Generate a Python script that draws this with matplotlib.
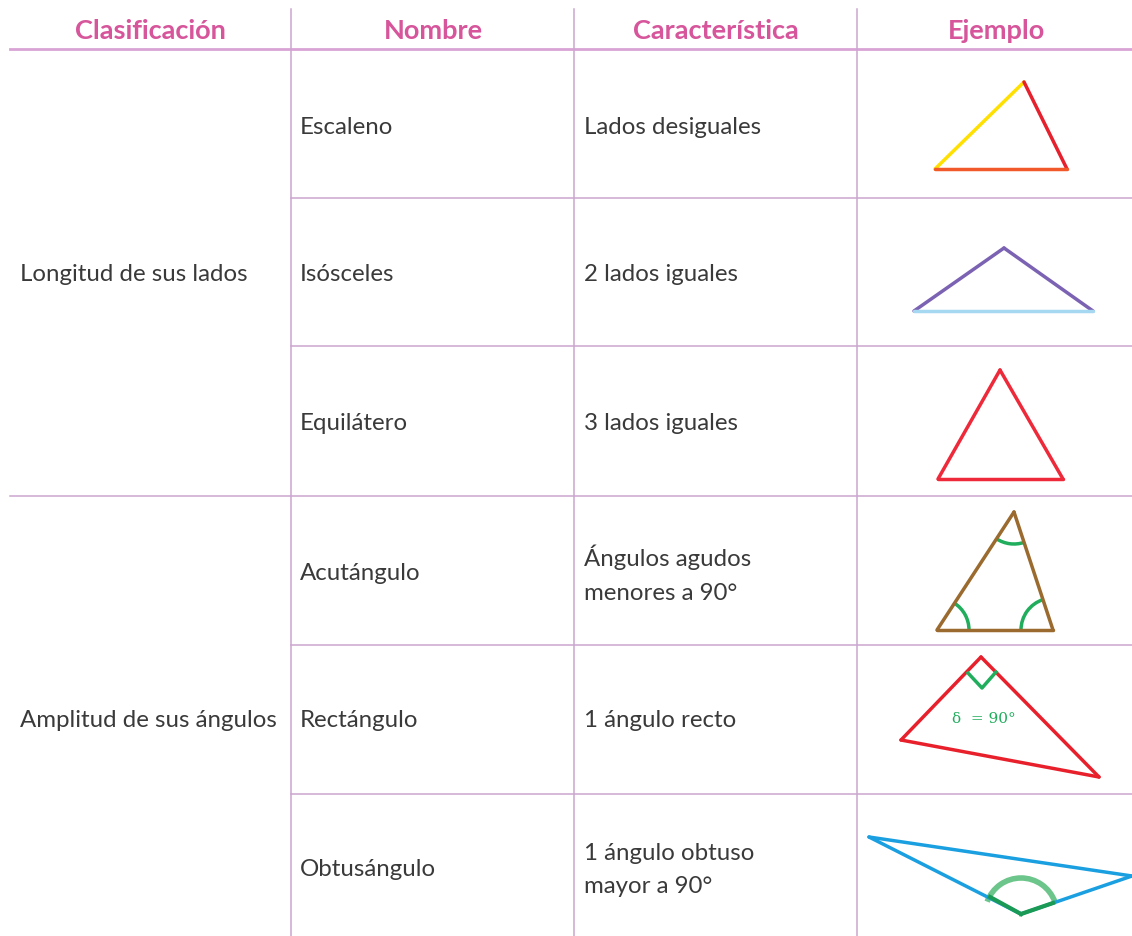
import matplotlib
matplotlib.use("Agg")
from matplotlib import pyplot as plt
from matplotlib.patches import Arc

plt.rcParams['font.family'] = ['Lato', 'DejaVu Sans']

## Table content
headers = ["Clasificación", "Nombre", "Característica", "Ejemplo"]
header_x = [150, 433, 716, 997]

groups = ["Longitud de sus lados", "Amplitud de sus ángulos"]
group_y = [275, 721]

names = ["Escaleno", "Isósceles", "Equilátero", "Acutángulo", "Rectángulo", "Obtusángulo"]
features = ["Lados desiguales", "2 lados iguales", "3 lados iguales",
            "Ángulos agudos\nmenores a 90°", "1 ángulo recto", "1 ángulo obtuso\nmayor a 90°"]
row_y = [128, 275, 424, 574, 721, 870]

## Triangle vertices (pixel coords in the picture) and side colours
escaleno = [(935, 170), (1024, 83), (1067, 170)]
escaleno_colors = ["#ffe000", "#e6202c", "#f2592a"]
isosceles = [(914, 312), (1004, 249), (1093, 312)]
isosceles_colors = ["#7b62b3", "#7b62b3", "#a6d8f2"]
equilatero = [(938, 480), (1000, 371), (1063, 480)]
acutangulo = [(937, 631), (1014, 513), (1053, 631)]
rectangulo = [(901, 741), (981, 658), (1099, 778)]
right_mark = [(968, 674), (982, 689), (996, 673)]
obtusangulo = [(869, 838), (1021, 915), (1132, 877)]
obtuse_ends = [(990, 898), (1053, 904)]

grid_color = "#cba6cf"
pink = "#d6559b"
text_color = "#3a3a3a"
green = "#20ad5c"

fig = plt.figure(figsize=(11.32, 9.37), dpi=100)
ax = fig.add_axes([0, 0, 1, 1])
ax.set_xlim(0, 1132)
ax.set_ylim(937, 0)
ax.axis("off")

# grid lines
ax.plot([10, 1132], [50, 50], color="#d9a3d6", lw=2)
for x in [291, 574, 857]:
    ax.plot([x, x], [10, 937], color=grid_color, lw=1.1)
for y in [199, 347, 646, 795]:
    ax.plot([291, 1132], [y, y], color=grid_color, lw=1.1)
ax.plot([10, 1132], [497, 497], color=grid_color, lw=1.1)

# text
for h, x in zip(headers, header_x):
    ax.text(x, 31, h, color=pink, fontsize=19.5, fontweight="bold", ha="center", va="center")
for g, y in zip(groups, group_y):
    ax.text(20, y, g, color=text_color, fontsize=17.3, ha="left", va="center")
for n, f, y in zip(names, features, row_y):
    ax.text(300, y, n, color=text_color, fontsize=17.3, ha="left", va="center")
    ax.text(584, y, f, color=text_color, fontsize=17.3, ha="left", va="center",
            linespacing=1.75)

def draw_tri(pts, colors, lw=2.5):
    for i in range(3):
        a = pts[i]
        b = pts[(i + 1) % 3]
        ax.plot([a[0], b[0]], [a[1], b[1]], color=colors[i], lw=lw,
                solid_capstyle="round")

draw_tri(escaleno, escaleno_colors)
draw_tri(isosceles, isosceles_colors)
draw_tri(equilatero, ["#ee2a3a"] * 3)
draw_tri(acutangulo, ["#9a6a2e"] * 3)
draw_tri(rectangulo, ["#e8202c"] * 3)
draw_tri(obtusangulo, ["#1a9fe0"] * 3)

# angle arcs on the acute triangle (y axis is inverted, so angles are mirrored)
ax.add_patch(Arc(acutangulo[0], 64, 64, theta1=-57, theta2=0, color=green, lw=2.5))
ax.add_patch(Arc(acutangulo[2], 64, 64, theta1=180, theta2=252, color=green, lw=2.5))
ax.add_patch(Arc(acutangulo[1], 64, 64, theta1=72, theta2=123, color=green, lw=2.5))

# right angle marker
ax.plot([p[0] for p in right_mark], [p[1] for p in right_mark], color=green, lw=2.5)
ax.text(984, 719, "δ  = 90°", color=green, fontsize=11, family=["DejaVu Serif"],
        ha="center", va="center")

# obtuse angle marker
v = obtusangulo[1]
for e in obtuse_ends:
    ax.plot([v[0], e[0]], [v[1], e[1]], color="#1a9a55", lw=3)
ax.add_patch(Arc(v, 72, 72, theta1=200, theta2=340, color="#6cc58a", lw=4))

fig.savefig("out.png", dpi=100)
